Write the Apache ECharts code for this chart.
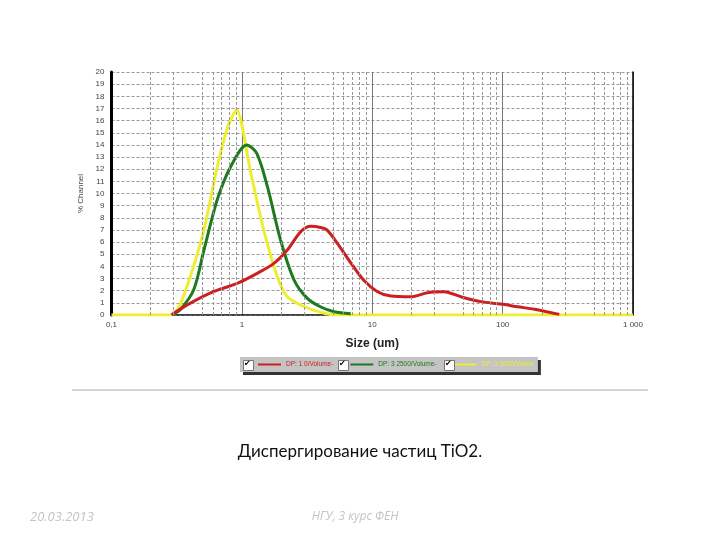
<!DOCTYPE html>
<html><head><meta charset="utf-8">
<script src="https://cdn.jsdelivr.net/npm/echarts@6/dist/echarts.min.js"></script>
<style>html,body{margin:0;padding:0;background:#fff}#c{width:720px;height:540px}</style>
</head><body><div id="c"></div>
<script>
// ---- data ----
const seriesNames = ['DP: 1 0/Volume-', 'DP: 3 2500/Volume-', 'DP: 1 2000/Volum'];
const redSize = [0.29,0.30,0.40,0.605,0.92,1.31,1.76,2.23,2.83,3.37,4.03,4.49,5.4,6.84,8.57,10.97,13.9,19.8,26.5,35.5,47.9,68,97,130,175,272];
const redVal  = [0,0.14,0.96,1.92,2.6,3.43,4.25,5.35,6.86,7.3,7.2,7.0,5.9,4.3,2.88,1.92,1.56,1.5,1.84,1.92,1.5,1.1,0.9,0.68,0.47,0.05];
const greenSize = [0.29,0.34,0.428,0.512,0.648,0.82,1.09,1.3,1.57,1.98,2.51,3.18,4.0,5.1,6.84];
const greenVal  = [0,0.5,2.1,5.35,9.5,12.2,14.0,13.3,10.56,6.17,2.9,1.37,0.68,0.27,0.1];
const yellowSize = [0.1,0.29,0.339,0.42,0.512,0.648,0.78,0.91,1.17,1.47,1.87,2.23,2.99,4.27,5.5,1000];
const yellowVal  = [0,0,0.96,3.8,7.0,12.2,15.5,16.9,11.7,7.0,3.15,1.5,0.7,0.15,0,0];
const baseSize = [0.29,4.7];
const baseVal = [0,0];
const xTickValues = [0.1,1,10,100,1000];
const xTickLabels = ['0,1','1','10','100','1 000'];
const minorGrid = [0.2,0.3,0.5,0.6,0.7,0.8,0.9,2,3,5,6,7,8,9,20,30,50,60,70,80,90,200,300,500,600,700,800,900];
const colors = ['#cc2020','#1e7a1e','#eeee30'];

const zip = (a,b) => a.map((v,i)=>[v,b[i]]);

const chart = echarts.init(document.getElementById('c'), null, {renderer:'canvas'});
const cb = x => ([
  {type:'rect', z:100, left:x, top:360, shape:{width:10,height:10}, style:{fill:'#fff', stroke:'#777'}},
  {type:'text', z:101, left:x+1, top:360, style:{text:'✔', fontSize:8, fill:'#000', fontFamily:'DejaVu Sans'}}
]);
chart.setOption({
  animation:false,
  grid:{left:111.5, right:87, top:72, bottom:225},
  xAxis:{type:'log', logBase:10, min:0.1, max:1000,
    name:'Size (um)', nameLocation:'middle', nameGap:23,
    nameTextStyle:{fontFamily:'Liberation Sans', fontWeight:'bold', fontSize:12, color:'#222'},
    axisLine:{show:false}, axisTick:{show:false},
    axisLabel:{fontFamily:'Liberation Sans', fontSize:8, color:'#444', margin:6,
      formatter:v=>{const i=xTickValues.findIndex(t=>Math.abs(t-v)/t<1e-6);return i>=0?xTickLabels[i]:'';}},
    splitLine:{show:true, lineStyle:{color:'#777', width:1, type:'solid'}}
  },
  yAxis:[{type:'value', min:0, max:20, interval:1,
    name:'% Channel', nameLocation:'middle', nameGap:15, nameRotate:90,
    nameTextStyle:{fontFamily:'Liberation Sans', fontSize:8, color:'#444'},
    axisLine:{show:true, lineStyle:{color:'#000', width:3}}, axisTick:{show:false},
    axisLabel:{fontFamily:'Liberation Sans', fontSize:8, color:'#444', margin:7},
    splitLine:{show:true, lineStyle:{color:'#999', width:1, type:[3,2]}}
  },{type:'value', min:0, max:20, position:'right',
    axisLine:{show:true, lineStyle:{color:'#000', width:1.5}}, axisTick:{show:false},
    axisLabel:{show:false}, splitLine:{show:false}
  }],
  legend:{left:240, top:357, padding:[4,4,4,18], itemGap:17, itemWidth:23, itemHeight:2,
    backgroundColor:'#c4c4c4', shadowColor:'#333', shadowOffsetX:3, shadowOffsetY:3, shadowBlur:0,
    textStyle:{fontFamily:'Liberation Sans', fontSize:6.5},
    data:seriesNames.map((n,i)=>({name:n, icon:'rect', textStyle:{color:colors[i]}}))
  },
  series:[
    {name:'grid', type:'line', data:[], silent:true,
      markLine:{silent:true, symbol:['none','none'], label:{show:false},
        lineStyle:{color:'#999', width:1, type:[3,2]},
        data:minorGrid.map(v=>({xAxis:v}))}},
    {name:'base', type:'line', data:zip(baseSize,baseVal), showSymbol:false, lineStyle:{color:'#000', width:1.5}, z:1},
    {name:seriesNames[2], type:'line', data:zip(yellowSize,yellowVal), smooth:0.25, showSymbol:false, color:colors[2], lineStyle:{width:3}, z:2},
    {name:seriesNames[1], type:'line', data:zip(greenSize,greenVal), smooth:0.3, showSymbol:false, color:colors[1], lineStyle:{width:3}, z:3},
    {name:seriesNames[0], type:'line', data:zip(redSize,redVal), smooth:0.3, showSymbol:false, color:colors[0], lineStyle:{width:3}, z:4}
  ],
  graphic:[
    ...cb(243), ...cb(338), ...cb(444),
    {type:'line', shape:{x1:72, y1:390, x2:648, y2:390}, style:{stroke:'#aaa', lineWidth:1}},
    {type:'text', x:360, y:452, style:{text:'Диспергирование частиц TiO2.', fontFamily:'Lato', fontSize:17, fill:'#111', align:'center', verticalAlign:'middle'}},
    {type:'text', x:30, y:517, style:{text:'20.03.2013', fontFamily:'Open Sans', fontStyle:'italic', fontSize:13, fill:'#c4c4c4', verticalAlign:'middle'}},
    {type:'text', x:355, y:517, style:{text:'НГУ, 3 курс ФЕН', fontFamily:'Open Sans', fontStyle:'italic', fontSize:12, fill:'#c4c4c4', align:'center', verticalAlign:'middle'}}
  ]
});
</script></body></html>
